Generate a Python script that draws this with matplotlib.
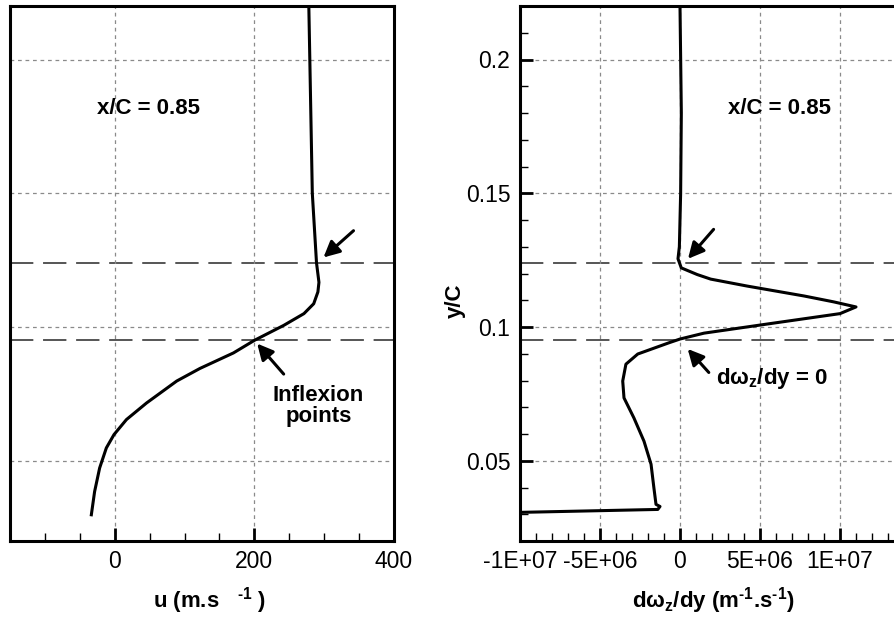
import numpy as np
import matplotlib
matplotlib.use("Agg")
from matplotlib import pyplot as plt, ticker as plticker

# Velocity profile u(y) at x/C = 0.85 (left panel)
u_y = [0.0298, 0.0385, 0.0473, 0.0548, 0.0598, 0.0654, 0.0716, 0.0798,
       0.0845, 0.0903, 0.095, 0.1006, 0.105, 0.1087, 0.1131, 0.1167, 0.124,
       0.15, 0.22]
u_vals = [-33.5, -28.8, -21.6, -12, -1, 16.8, 45.6, 88.8,
          122, 170, 200, 242, 271, 285, 291, 292.5, 289,
          283, 278]

# Vorticity gradient d(omega_z)/dy (right panel)
dw_y = [0.0307, 0.0318, 0.0329, 0.0337, 0.0398, 0.0487, 0.0573, 0.066, 0.0735,
        0.0798, 0.0861, 0.0899, 0.0941, 0.0955, 0.0977, 0.1013, 0.105, 0.1075,
        0.1094, 0.1116, 0.1153, 0.1179, 0.1196, 0.1221, 0.1255, 0.13, 0.15,
        0.18, 0.22]
dw_vals = [-1.0e7, -1.39e6, -1.25e6, -1.5e6, -1.63e6, -1.81e6, -2.25e6, -2.88e6, -3.5e6,
           -3.58e6, -3.38e6, -2.64e6, -6.9e5, 0.0, 1.5e6, 5.67e6, 1.0e7, 1.1e7,
           9.6e6, 7.75e6, 4.2e6, 1.92e6, 1.08e6, 8e4, -1.25e5, -4e4, 4e4,
           8.3e4, 0.0]

# inflexion point levels
inflex_y = [0.124, 0.095]

y_ticks = [0.05, 0.1, 0.15, 0.2]
y_ticklabels = ["0.05", "0.1", "0.15", "0.2"]
u_ticks = [0, 200, 400]
u_ticklabels = ["0", "200", "400"]
dw_ticks = [-1e7, -5e6, 0, 5e6, 1e7]
dw_ticklabels = ["-1E+07", "-5E+06", "0", "5E+06", "1E+07"]

plt.rcParams["font.family"] = ["Liberation Sans", "DejaVu Sans"]
plt.rcParams["axes.unicode_minus"] = False
plt.rcParams["mathtext.fontset"] = "custom"
plt.rcParams["mathtext.rm"] = "Liberation Sans:bold"
plt.rcParams["mathtext.it"] = "Liberation Sans:bold"
plt.rcParams["mathtext.bf"] = "Liberation Sans:bold"
plt.rcParams["mathtext.default"] = "bf"

TICK_FS = 16.5
BOLD_FS = 16


def style_axes(ax, xminor, yminor):
    for sp in ax.spines.values():
        sp.set_linewidth(2.2)
    ax.xaxis.set_minor_locator(plticker.MultipleLocator(xminor))
    ax.yaxis.set_minor_locator(plticker.MultipleLocator(yminor))
    ax.tick_params(which="both", direction="in", top=False, right=False,
                   labelsize=TICK_FS, colors="black")
    ax.tick_params(which="major", length=9.5, width=2.0, pad=6.5)
    ax.tick_params(which="minor", length=6, width=1.0)
    ax.grid(True, which="major", color="#8a8a8a", linestyle=(0, (3, 3)), linewidth=0.9)
    for yv in inflex_y:
        ax.axhline(yv, color="#555555", linewidth=1.4, dashes=(12, 5), zorder=1.5)


fig = plt.figure(figsize=(8.95, 6.17), dpi=100)
axes_bottom = 76 / 617
axes_height = 535 / 617

# left panel
ax1 = fig.add_axes([10 / 895, axes_bottom, 384 / 895, axes_height])
ax1.plot(u_vals, u_y, color="black", linewidth=2.2, zorder=3)
ax1.set_xlim(-150, 400)
ax1.set_ylim(0.02, 0.22)
ax1.set_xticks(u_ticks)
ax1.set_xticklabels(u_ticklabels)
ax1.set_yticks(y_ticks)
style_axes(ax1, 50, 0.01)
ax1.tick_params(axis="y", which="both", left=False, labelleft=False)
ax1.set_xlabel(r"u (m.s   $^{\text{-1}}$ )", fontsize=BOLD_FS, fontweight="bold",
               va="baseline")
ax1.xaxis.set_label_coords(0.52, -0.125)
ax1.text(49, 0.1818, "x/C = 0.85", fontsize=BOLD_FS, fontweight="bold",
         ha="center", va="center")
ax1.text(292, 0.0705, "Inflexion\npoints", fontsize=BOLD_FS, fontweight="bold",
         ha="center", va="center", linespacing=1.0)
arrow = dict(arrowstyle="-|>", color="black", lw=2.2, mutation_scale=24, shrinkA=0, shrinkB=0)
ax1.annotate("", xy=(299, 0.126), xytext=(342, 0.136), arrowprops=arrow)
ax1.annotate("", xy=(204, 0.0938), xytext=(242, 0.0824), arrowprops=arrow)

# right panel
ax2 = fig.add_axes([520 / 895, axes_bottom, 400 / 895, axes_height])
ax2.plot(dw_vals, dw_y, color="black", linewidth=2.2, zorder=3)
ax2.set_xlim(-1e7, 1.5e7)
ax2.set_ylim(0.02, 0.22)
ax2.set_xticks(dw_ticks)
ax2.set_xticklabels(dw_ticklabels)
ax2.set_yticks(y_ticks)
ax2.set_yticklabels(y_ticklabels)
style_axes(ax2, 1e6, 0.01)
ax2.tick_params(axis="y", which="major", pad=7)
ax2.set_xlabel(r"d\u03c9$_z$/dy (m$^{\text{-1}}$.s$^{\text{-1}}$)".replace(r"\u03c9", "\u03c9"),
               fontsize=BOLD_FS, fontweight="bold", va="baseline")
ax2.xaxis.set_label_coords(193 / 400, -0.125)
ax2.set_ylabel("y/C", fontsize=BOLD_FS, fontweight="bold", va="center")
ax2.yaxis.set_label_coords(-0.1625, 0.45)
ax2.text(6.25e6, 0.1818, "x/C = 0.85", fontsize=BOLD_FS, fontweight="bold",
         ha="center", va="center")
ax2.text(5.78e6, 0.0807, "d\u03c9$_z$/dy = 0", fontsize=BOLD_FS, fontweight="bold",
         ha="center", va="center")
ax2.annotate("", xy=(0.5e6, 0.1255), xytext=(2.1e6, 0.1365), arrowprops=arrow)
ax2.annotate("", xy=(0.48e6, 0.0918), xytext=(1.8e6, 0.083), arrowprops=arrow)

fig.savefig("out.png", dpi=100)
